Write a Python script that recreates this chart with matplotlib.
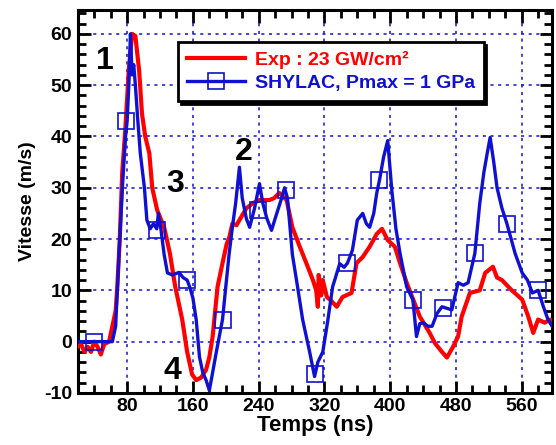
import numpy as np
import matplotlib.pyplot as plt
from matplotlib.lines import Line2D
from matplotlib.ticker import MultipleLocator

plt.rcParams['font.family'] = ['Liberation Sans', 'DejaVu Sans']
plt.rcParams['font.weight'] = 'bold'
plt.rcParams['axes.unicode_minus'] = False

# measured velocity, experiment (red)
t_exp = [20, 24, 28, 32, 36, 40, 44, 48, 52, 58, 62, 66, 68, 71, 74, 77.6, 82, 86, 90,
         94.6, 98, 102, 107, 110.5, 116.6, 125, 132, 138.5, 147, 153, 159, 164, 170,
         176, 180, 184, 190, 196, 201, 204.4, 208, 213, 216.6, 225, 233, 241, 253, 259,
         265, 274, 281, 290, 298, 306, 310, 312, 313, 316, 318, 323, 328, 335, 342, 353,
         359, 366.6, 375, 383.7, 390, 397, 405.7, 412, 420, 428, 436, 448, 454.5, 458,
         463, 469, 476.5, 482.6, 487, 497, 509, 515.6, 525, 530, 536, 548, 560.6, 568,
         574, 580, 588, 594.5, 597]
v_exp = [-1, -0.5, -2, -1, -2, 0, -1, -2.5, -0.5, 0, 3, 6, 10.7, 20, 33, 41, 53, 60, 59.6,
         52.8, 44.5, 40, 36.7, 30, 25.6, 22.3, 17.2, 10.7, 4.3, -2, -6.4, -7.5, -7,
         -5.5, -3, 1, 10.7, 15.3, 19, 20.4, 23, 22.7, 23.7, 26, 27, 27.6, 27.6, 28,
         29, 27.6, 22.3, 18.5, 15.3, 12, 10, 6.8, 13, 9, 12, 8.7, 8, 6.8, 8.7, 9.5,
         15.3, 16.5, 18.5, 21, 22, 19.8, 18.5, 15.3, 11.5, 8.2, 4.9, 1.7, -0.3, -1,
         -2, -3.1, -1, 1, 4.9, 9.5, 10, 13.4, 14.6, 12.5, 12, 10, 8.2, 4.9,
         1.7, 4.3, 3.7, 4.3, 4]

# SHYLAC simulation (blue)
t_sim = [20, 62, 66, 68, 71, 74, 78, 80, 82, 84, 86, 88, 90, 93, 96, 101, 104, 108, 112,
         116, 118, 121, 125, 129, 135, 143, 148, 153, 156, 160, 164, 168, 172, 176, 180,
         184, 188.5, 196, 200, 204, 208, 212, 216.6, 220, 225, 229, 235, 241, 245, 250,
         255.6, 262, 268, 271.5, 275, 281, 287, 293.5, 302, 308, 312, 318, 324, 330,
         338.6, 344, 348, 354, 360, 366.6, 371, 375, 380, 383.7, 387, 392, 397, 402,
         407, 412, 420, 427.6, 432, 436, 440, 446, 451, 457, 463, 469, 475, 482.6, 489,
         494.8, 503, 509, 514, 518, 521.6, 526, 530, 536, 542, 552, 560.6, 567, 573,
         580, 586, 592, 597]
v_sim = [0, 0, 3, 10, 20, 29.5, 40, 43, 50, 60, 52, 54, 50, 43, 36.7, 30, 23.7, 22, 23,
         22, 25, 22, 17, 13.4, 13, 13.5, 12.5, 12, 10.7, 8.5, 4.3, -3, -6, -7.5, -9.5,
         -6, -2, 4.3, 10.7, 17, 22.3, 27, 34, 28, 24, 22.3, 26, 30.8, 27, 24,
         21.7, 25, 28, 30, 28, 17, 11, 4.3, -2, -6.8, -4, -2, 4, 10.7,
         15.2, 14.5, 15.3, 17.8, 23.7, 25, 23, 22.3, 25, 29, 31.5, 36, 39.2, 29.5,
         22, 17.2, 10.7, 8.2, 1, 3.5, 3.7, 3, 3, 5.5, 6.8, 6.5, 6.2, 11.5, 11,
         11.5, 17.2, 27, 33, 36.7, 39.8, 35, 30, 26, 23, 17.2, 13.4, 12, 9.5,
         10, 7, 4.3, 3]

# square markers on the simulation curve
t_mark = [39.5, 78, 116.6, 153, 196, 239, 273, 309, 348, 387, 427.6, 464, 503, 542, 580]
v_mark = [0, 43, 21.7, 12, 4.3, 25.6, 29.6, -6.4, 15.3, 31.5, 8.2, 6.5, 17.2, 23, 10]

# numbered peaks
peak_labels = ['1', '2', '3', '4']
peak_t = [53, 221.5, 138.6, 135]
peak_v = [54.8, 36.9, 30.7, -5.8]

RED = '#ff0000'
BLUE = '#1010d0'

fig = plt.figure(figsize=(5.56, 4.45), dpi=100)
ax = fig.add_axes([0.140, 0.117, 0.853, 0.861])

ax.plot(t_exp, v_exp, color=RED, linewidth=3.0, zorder=3)
ax.plot(t_sim, v_sim, color=BLUE, linewidth=2.4, zorder=4)
ax.plot(t_mark, v_mark, 's', color=BLUE, markersize=12, markerfacecolor='none',
        markeredgewidth=1.2, zorder=5)

for lab, x, y in zip(peak_labels, peak_t, peak_v):
    ax.text(x, y, lab, fontsize=23, fontweight='bold', ha='center', va='center', zorder=6)

ax.set_xlim(20, 597)
ax.set_ylim(-10, 64.7)
ax.set_xticks(np.arange(80, 561, 80))
ax.xaxis.set_minor_locator(MultipleLocator(20))
ax.yaxis.set_major_locator(MultipleLocator(10))
ax.yaxis.set_minor_locator(MultipleLocator(2))

ax.grid(True, which='major', color=BLUE, linestyle=(0, (2, 3)), linewidth=1.1)
ax.set_axisbelow(True)

ax.tick_params(which='both', direction='in', top=True, right=True, width=2,
               labelsize=14, pad=4)
ax.tick_params(which='major', length=9)
ax.tick_params(which='minor', length=6)
for s in ax.spines.values():
    s.set_linewidth(2.2)
for lbl in ax.get_xticklabels() + ax.get_yticklabels():
    lbl.set_fontweight('bold')

ax.set_xlabel('Temps (ns)', fontsize=16, fontweight='bold', labelpad=0)
ax.set_ylabel('Vitesse (m/s)', fontsize=14, fontweight='bold', labelpad=6)

handles = [Line2D([], [], color=RED, linewidth=3.0),
           Line2D([], [], color=BLUE, linewidth=2.4, marker='s', markersize=12,
                  markerfacecolor='none', markeredgewidth=1.2)]
leg = ax.legend(handles, ['Exp : 23 GW/cm²', 'SHYLAC, Pmax = 1 GPa'],
                loc='upper left', bbox_to_anchor=(0.211, 0.916), borderaxespad=0,
                fancybox=False, shadow={'color': 'black', 'alpha': 1},
                edgecolor='black', framealpha=1, numpoints=1, handlelength=3.0,
                handletextpad=0.5, prop={'weight': 'bold', 'size': 14},
                labelcolor=[RED, BLUE], borderpad=0.45, labelspacing=0.3)
leg.get_frame().set_linewidth(2.0)
leg.set_zorder(10)

fig.savefig('out.png', dpi=100)
